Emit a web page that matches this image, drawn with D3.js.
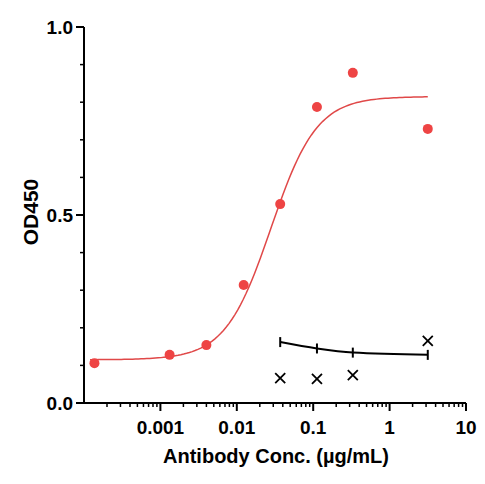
<!DOCTYPE html><html><head><script src="https://d3js.org/d3.v7.min.js"></script>
<style>body{margin:0;background:#fff}text{font-family:Arial,"Liberation Sans",sans-serif;font-weight:bold}</style></head><body><svg width="485" height="484"></svg><script>
const redX=[0.000137,0.00132,0.0040,0.0123,0.037,0.112,0.33,3.16];
const redY=[0.106,0.128,0.154,0.314,0.529,0.787,0.878,0.729];
const fit={bottom:0.115,top:0.815,ec50:0.028,hill:1.45};
const blackX=[0.037,0.112,0.33,3.16];
const blackY=[0.066,0.064,0.074,0.165];
const blackFitY=[0.162,0.145,0.134,0.128];
const xTicks=[0.001,0.01,0.1,1,10];
const yTicks=[0,0.5,1.0];
const svg=d3.select("svg");
const x=d3.scaleLog().domain([0.0001,10]).range([84,466]);
const y=d3.scaleLinear().domain([0,1]).range([403,27]);
const xa=svg.append("g").attr("transform","translate(0,403)");
const minors=[];for(let e=-4;e<1;e++)for(let k=2;k<10;k++)minors.push(k*Math.pow(10,e));
xa.append("line").attr("x1",84).attr("x2",466).attr("stroke","#000").attr("stroke-width",2);
xa.selectAll(".mi").data(minors).enter().append("line").attr("x1",d=>x(d)).attr("x2",d=>x(d)).attr("y1",0).attr("y2",4).attr("stroke","#000").attr("stroke-width",1.5);
xa.selectAll(".ma").data(xTicks).enter().append("line").attr("x1",d=>x(d)).attr("x2",d=>x(d)).attr("y1",0).attr("y2",8).attr("stroke","#000").attr("stroke-width",2);
xa.selectAll(".tl").data(xTicks).enter().append("text").attr("x",d=>x(d)).attr("y",31).attr("text-anchor","middle").attr("font-size",19).text(d=>String(d));
const ya=svg.append("g");
ya.append("line").attr("x1",84).attr("x2",84).attr("y1",27).attr("y2",404).attr("stroke","#000").attr("stroke-width",2);
ya.selectAll(".mi").data(d3.range(1,10).map(i=>i/10).filter(v=>v!==0.5)).enter().append("line").attr("x1",80).attr("x2",84).attr("y1",d=>y(d)).attr("y2",d=>y(d)).attr("stroke","#000").attr("stroke-width",1.5);
ya.selectAll(".ma").data(yTicks).enter().append("line").attr("x1",76).attr("x2",84).attr("y1",d=>y(d)).attr("y2",d=>y(d)).attr("stroke","#000").attr("stroke-width",2);
ya.selectAll(".tl").data(yTicks).enter().append("text").attr("x",73).attr("y",d=>y(d)+7).attr("text-anchor","end").attr("font-size",19).text(d=>d.toFixed(1));
svg.append("text").attr("x",276).attr("y",463).attr("text-anchor","middle").attr("font-size",20).text("Antibody Conc. (µg/mL)");
svg.append("text").attr("transform","translate(38,212) rotate(-90)").attr("text-anchor","middle").attr("font-size",21).text("OD450");
const f=c=>fit.bottom+(fit.top-fit.bottom)/(1+Math.pow(fit.ec50/c,fit.hill));
const cs=d3.range(0,120).map(i=>Math.pow(10,Math.log10(0.00012)+i/119*(Math.log10(3.16)-Math.log10(0.00012))));
svg.append("path").attr("d",d3.line().x(d=>x(d)).y(d=>y(f(d)))(cs)).attr("fill","none").attr("stroke","#e04848").attr("stroke-width",1.5);
svg.selectAll(".rp").data(redX).enter().append("circle").attr("cx",d=>x(d)).attr("cy",(d,i)=>y(redY[i])).attr("r",5).attr("fill","#ee4444");
const bp=blackX.map((d,i)=>[x(d),y(blackFitY[i])]);
svg.append("path").attr("d",d3.line().curve(d3.curveMonotoneX)(bp)).attr("fill","none").attr("stroke","#000").attr("stroke-width",2);
svg.selectAll(".cap").data(bp).enter().append("line").attr("x1",d=>d[0]).attr("x2",d=>d[0]).attr("y1",d=>d[1]-5).attr("y2",d=>d[1]+5).attr("stroke","#000").attr("stroke-width",2);
const xm=svg.selectAll(".xm").data(blackX).enter().append("g").attr("transform",(d,i)=>`translate(${x(d)},${y(blackY[i])})`);
xm.append("path").attr("d","M-5,-5L5,5M-5,5L5,-5").attr("stroke","#000").attr("stroke-width",1.8);
</script></body></html>
